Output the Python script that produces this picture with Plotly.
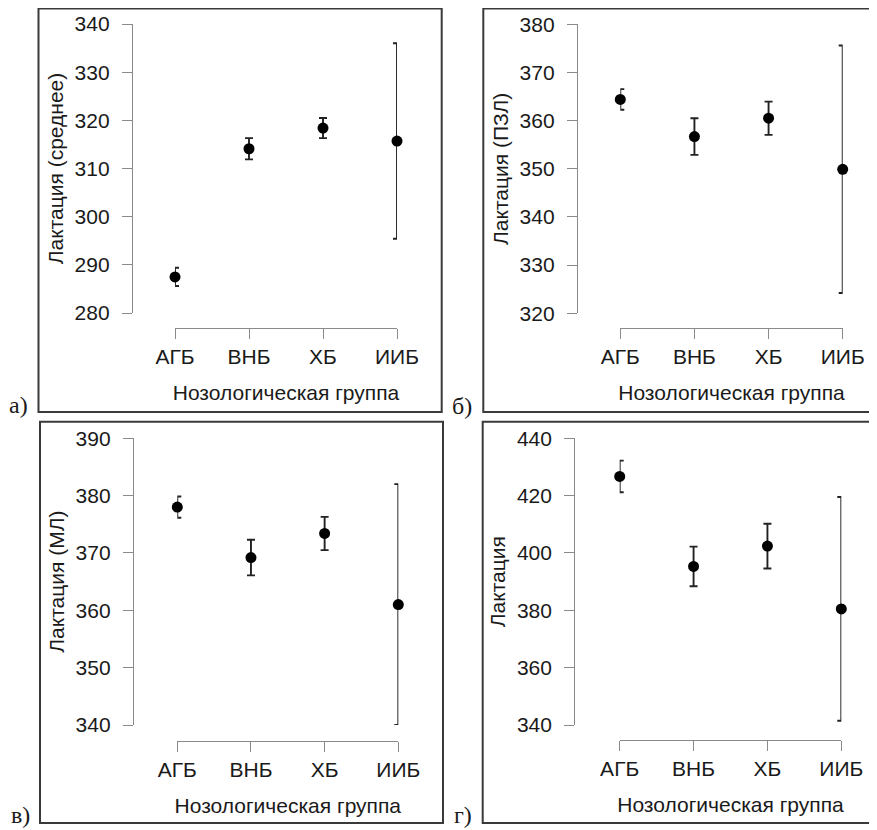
import plotly.graph_objects as go

# ---------------- data ----------------
categories = ["АГБ", "ВНБ", "ХБ", "ИИБ"]

mean_a = [287.5, 314.1, 318.4, 315.7]
err_a = [1.9, 2.2, 2.1, 20.3]

mean_b = [364.4, 356.7, 360.5, 349.9]
err_b = [2.15, 3.8, 3.45, 25.7]

mean_c = [378.0, 369.2, 373.4, 361.0]
err_c = [1.85, 3.1, 2.9, 21.0]

mean_d = [426.7, 395.3, 402.4, 380.5]
err_d = [5.5, 6.9, 7.8, 39.0]

y_titles = ["Лактация (среднее)", "Лактация (ПЗЛ)", "Лактация (МЛ)", "Лактация"]
x_title = "Нозологическая группа"
panel_labels = ["а)", "б)", "в)", "г)"]

y_ranges = [[280, 340], [320, 380], [340, 390], [340, 440]]
y_dticks = [10, 10, 10, 20]

# ---------------- layout geometry (pixels of the 877x830 page) ----------------
OFF = 8                     # default body margin of the html page
W, H = 877 - OFF, 830 - OFF  # figure size


def px(x):
    return (x - OFF) / W


def py(y):
    return 1 - (y - OFF) / H


geom = [
    dict(x0=175, x1=397, ytop=24, ybot=313, yax=132, xax=328),
    dict(x0=620.3, x1=842.7, ytop=24.3, ybot=313.3, yax=577, xax=328),
    dict(x0=177.3, x1=398.3, ytop=438.3, ybot=725, yax=133, xax=741),
    dict(x0=619.7, x1=841.3, ytop=438.3, ybot=725, yax=574.3, xax=740),
]
frames = [
    (38.5, 8.6, 441.7, 412),
    (483.3, 8.6, 890, 412),
    (40, 421.7, 443, 823),
    (482.7, 421.7, 890, 823),
]
# (x centre, bottom of label box)
label_pos = [(18, 419), (462, 420), (20, 829), (463, 829)]

FONT = "Liberation Sans, Arial, Helvetica, sans-serif"
AXCOL = "#8a8a8a"
TXT = "#1a1a1a"

means = [mean_a, mean_b, mean_c, mean_d]
errs = [err_a, err_b, err_c, err_d]

fig = go.Figure()
layout = dict(
    template="none",
    width=W,
    height=H,
    margin=dict(l=0, r=0, t=0, b=0, autoexpand=False),
    paper_bgcolor="white",
    plot_bgcolor="white",
    showlegend=False,
    font=dict(family=FONT, color=TXT),
    shapes=[],
    annotations=[],
)

for i in range(4):
    g = geom[i]
    n = "" if i == 0 else str(i + 1)
    fig.add_trace(
        go.Scatter(
            x=categories,
            y=means[i],
            mode="markers",
            marker=dict(color="black", size=11),
            error_y=dict(type="data", array=errs[i], visible=True,
                         color="#222222", thickness=1.9, width=4),
            cliponaxis=False,
            xaxis="x" + n,
            yaxis="y" + n,
            hoverinfo="x+y",
        )
    )
    layout["xaxis" + n] = dict(
        type="category",
        categoryorder="array",
        categoryarray=categories,
        range=[0, len(categories) - 1],
        domain=[px(g["x0"]), px(g["x1"])],
        anchor="free",
        position=py(g["xax"]),
        automargin=False,
        showline=True,
        linecolor=AXCOL,
        linewidth=1.3,
        ticks="outside",
        ticklen=10,
        tickwidth=1.3,
        tickcolor=AXCOL,
        showgrid=False,
        zeroline=False,
        tickfont=dict(size=21, color=TXT, family=FONT),
        ticklabelstandoff=0,
        title=dict(text=x_title, font=dict(size=21, color=TXT, family=FONT), standoff=17),
    )
    layout["yaxis" + n] = dict(
        range=y_ranges[i],
        dtick=y_dticks[i],
        tick0=y_ranges[i][0],
        domain=[py(g["ybot"]), py(g["ytop"])],
        anchor="free",
        position=px(g["yax"]),
        automargin=False,
        showline=True,
        linecolor=AXCOL,
        linewidth=1.3,
        ticks="outside",
        ticklen=10,
        tickwidth=1.3,
        tickcolor=AXCOL,
        showgrid=False,
        zeroline=False,
        tickfont=dict(size=21, color=TXT, family=FONT),
        ticklabelstandoff=8,
        title=dict(text=y_titles[i], font=dict(size=21, color=TXT, family=FONT), standoff=4),
    )
    fx0, fy0, fx1, fy1 = frames[i]
    layout["shapes"].append(
        dict(type="rect", xref="paper", yref="paper",
             x0=px(fx0), x1=px(fx1), y0=py(fy1), y1=py(fy0),
             line=dict(color="#3a3a3a", width=2), fillcolor="rgba(0,0,0,0)")
    )
    lx, ly = label_pos[i]
    layout["annotations"].append(
        dict(text=panel_labels[i], xref="paper", yref="paper",
             x=px(lx), y=py(ly), showarrow=False, xanchor="center", yanchor="bottom",
             borderpad=0,
             font=dict(family="Liberation Serif, Times New Roman, serif", size=24, color=TXT))
    )

fig.update_layout(**layout)
fig.write_html("out.html")
